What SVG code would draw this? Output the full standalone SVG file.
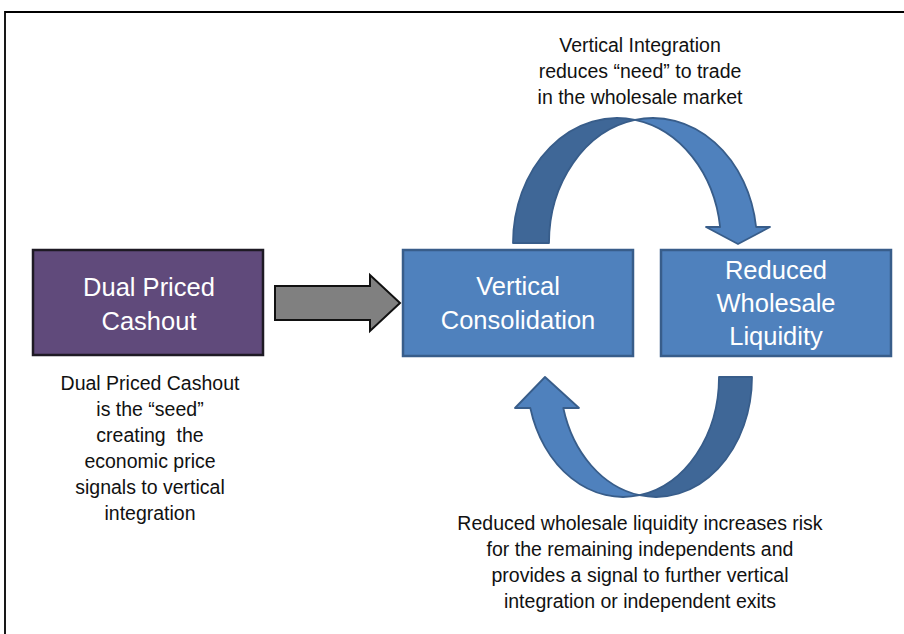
<svg xmlns="http://www.w3.org/2000/svg" width="904" height="634" viewBox="0 0 904 634">
  <style>
    .label { font-family: "Liberation Sans", Arial, sans-serif; font-size: 19.5px; fill: #111; text-anchor: middle; }
    .boxtext { font-family: "Liberation Sans", Arial, sans-serif; font-size: 25.5px; fill: #ffffff; text-anchor: middle; }
    .blue { fill: #4F81BD; stroke: #385D8A; stroke-width: 2.5; }
    .band-front { fill: #4F81BD; stroke: #385D8A; stroke-width: 1.8; stroke-linejoin: round; }
    .band-back { fill: #3F6797; stroke: #385D8A; stroke-width: 1.8; stroke-linejoin: round; }
  </style>

  <rect width="904" height="634" fill="#ffffff"/>
  <!-- frame (top and left edges) -->
  <path d="M5,634 V12 H904" fill="none" stroke="#000" stroke-width="1.8"/>

  <!-- connectors -->
  <g id="connectors">
    <!-- straight block arrow into consolidation -->
    <path d="M275,286 H370 V275 L400,303 L370,331 V320 H275 Z" fill="#808080" stroke="#111" stroke-width="2" stroke-linejoin="miter"/>
    <!-- upper curved arrow -->
    <path class="band-back" d="M513,243 A104,125 0 0 1 635,119.9 A104,125 0 0 0 549,243 Z"/>
    <path class="band-front" d="M635,119.9 A104,125 0 0 1 756.1,227 L770,227 L738,244 L706,227 L720.1,227 A104,125 0 0 0 635,119.9 Z"/>
    <!-- lower curved arrow -->
    <path class="band-back" d="M752,377 A96,120 0 0 1 639.5,495.2 A96,120 0 0 0 719,377 Z"/>
    <path class="band-front" d="M639.5,495.2 A96,120 0 0 1 530.3,408 L515,408 L545,377 L579,408 L563.3,408 A96,120 0 0 0 639.5,495.2 Z"/>
  </g>

  <g id="dual-priced-cashout">
    <rect x="33" y="250" width="230" height="105" fill="#604A7B" stroke="#1e1a24" stroke-width="2.5"/>
    <text class="boxtext" x="149" y="296">Dual Priced</text>
    <text class="boxtext" x="149" y="330">Cashout</text>
  </g>

  <g id="vertical-consolidation">
    <rect class="blue" x="403" y="250" width="230" height="106"/>
    <text class="boxtext" x="518" y="295">Vertical</text>
    <text class="boxtext" x="518" y="329">Consolidation</text>
  </g>

  <g id="reduced-wholesale-liquidity">
    <rect class="blue" x="661" y="250" width="230" height="106"/>
    <text class="boxtext" x="776" y="279">Reduced</text>
    <text class="boxtext" x="776" y="312">Wholesale</text>
    <text class="boxtext" x="776" y="345">Liquidity</text>
  </g>

  <g id="note-top">
    <text class="label" x="640" y="52">Vertical Integration</text>
    <text class="label" x="640" y="78">reduces “need” to trade</text>
    <text class="label" x="640" y="104">in the wholesale market</text>
  </g>

  <g id="note-left">
    <text class="label" x="150" y="390">Dual Priced Cashout</text>
    <text class="label" x="150" y="416">is the “seed”</text>
    <text class="label" x="150" y="442" xml:space="preserve">creating  the</text>
    <text class="label" x="150" y="468">economic price</text>
    <text class="label" x="150" y="494">signals to vertical</text>
    <text class="label" x="150" y="520">integration</text>
  </g>

  <g id="note-bottom">
    <text class="label" x="640" y="530">Reduced wholesale liquidity increases risk</text>
    <text class="label" x="640" y="556">for the remaining independents and</text>
    <text class="label" x="640" y="582">provides a signal to further vertical</text>
    <text class="label" x="640" y="608">integration or independent exits</text>
  </g>
</svg>
